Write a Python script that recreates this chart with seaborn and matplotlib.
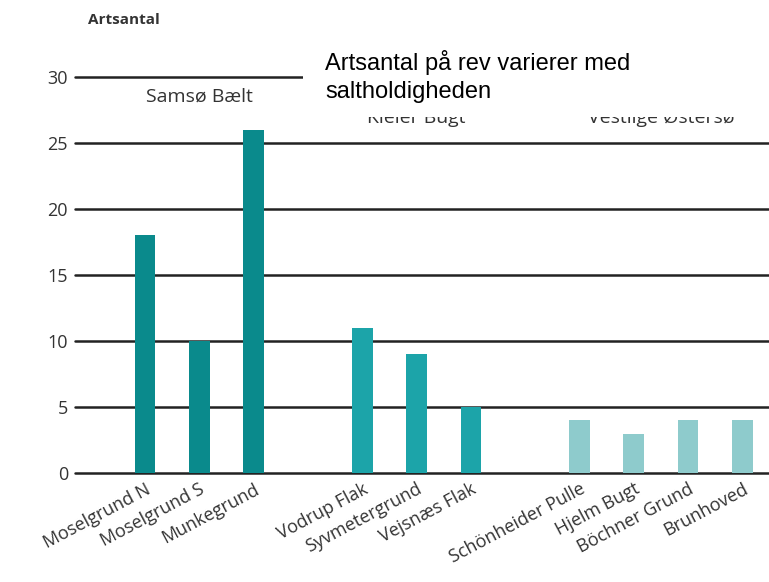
import numpy as np
import pandas as pd
import matplotlib
matplotlib.use("Agg")
import matplotlib.pyplot as plt
import seaborn as sns

# --- data ---
groups = ["Samsø Bælt", "Kieler Bugt", "Vestlige Østersø"]
samso_names = ["Moselgrund N", "Moselgrund S", "Munkegrund"]
samso_values = [18, 10, 26]
kiel_names = ["Vodrup Flak", "Syvmetergrund", "Vejsnæs Flak"]
kiel_values = [11, 9, 5]
vest_names = ["Schönheider Pulle", "Hjelm Bugt", "Böchner Grund", "Brunhoved"]
vest_values = [4, 3, 4, 4]
group_colors = ["#0a8a8c", "#1ca4a9", "#8ecbcc"]
yticks = [0, 5, 10, 15, 20, 25, 30]

rows = []
for g, (names, vals) in enumerate([(samso_names, samso_values),
                                   (kiel_names, kiel_values),
                                   (vest_names, vest_values)]):
    for n, v in zip(names, vals):
        rows.append({"group": groups[g], "name": n, "value": v, "gidx": g})
df = pd.DataFrame(rows)
# one empty slot between groups
df["pos"] = np.arange(len(df)) + df["gidx"]

sns.set_style("white")
plt.rcParams["font.family"] = ["Open Sans", "DejaVu Sans"]

fig = plt.figure(figsize=(7.69, 5.82), dpi=100)
ax = fig.add_axes([0.0975, 0.187, 0.9025, 0.681])

for y in yticks:
    ax.axhline(y, color="#222222", lw=1.8, zorder=1, clip_on=False)

sns.barplot(data=df, x="pos", y="value", hue="group", palette=group_colors,
            native_scale=True, dodge=False, width=0.38, legend=False,
            saturation=1, linewidth=0, ax=ax, zorder=2)

ax.set_xlim(-1.29, 11.49)
ax.set_ylim(0, 30)
ax.set_yticks(yticks)
ax.set_yticklabels([str(t) for t in yticks], fontsize=13, color="#333333")
ax.tick_params(axis="y", length=0, pad=5)
ax.set_xticks(df["pos"])
ax.set_xticklabels(df["name"], rotation=28, ha="right", rotation_mode="anchor",
                   fontsize=13, color="#333333")
ax.tick_params(axis="x", length=0, pad=5)
ax.set_xlabel("")
ax.set_ylabel("")
for s in ax.spines.values():
    s.set_visible(False)

# group labels
centers = df.groupby("gidx")["pos"].mean()
label_y = [28.5, 26.9, 26.9]
for g in range(3):
    ax.text(centers[g], label_y[g], groups[g], ha="center", va="center",
            fontsize=14, color="#333333", zorder=3)

fig.text(0.114, 0.965, "Artsantal", fontsize=11, fontweight="bold",
         color="#333333", ha="left", va="center")

# title box overlay
fig.patches.append(plt.Rectangle((303 / 769, 1 - 117 / 582), 1 - 303 / 769, 67 / 582,
                                 transform=fig.transFigure, facecolor="white",
                                 edgecolor="none", zorder=5))
fig.text(325 / 769, 1 - 50 / 582, "Artsantal på rev varierer med\nsaltholdigheden",
         fontsize=17, family="Liberation Sans", color="black", ha="left",
         va="top", linespacing=1.35, zorder=6)

fig.savefig("out.png", dpi=100)
